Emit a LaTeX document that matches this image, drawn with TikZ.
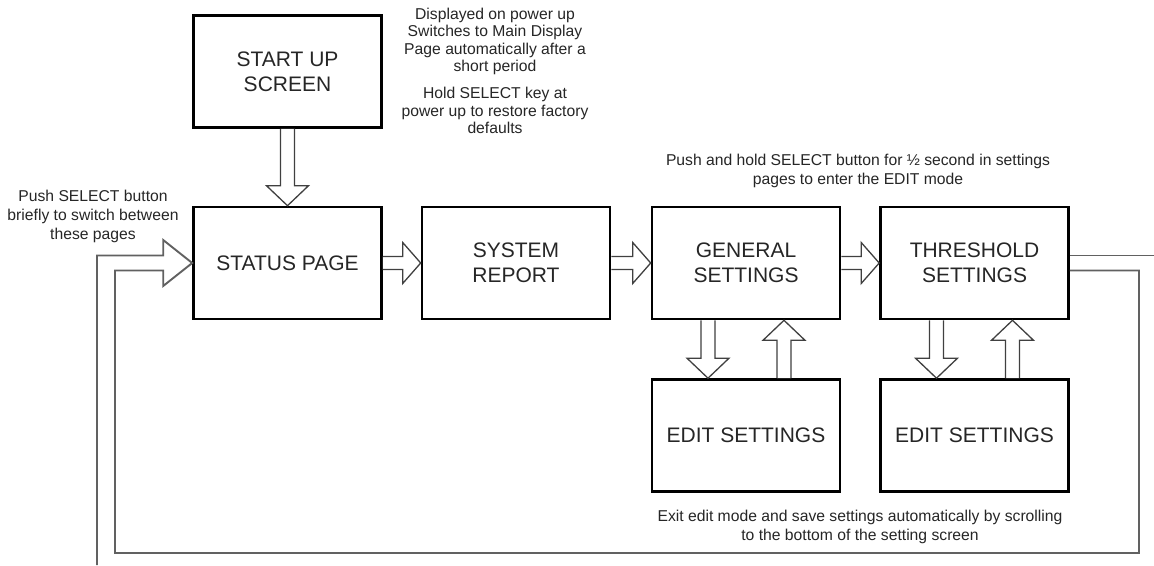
\documentclass[tikz,border=0pt]{standalone}
\usepackage{fontspec}
\setmainfont{Liberation Sans}
\usetikzlibrary{calc}
\newcommand\rarr[2]{\draw[arr] let \p1=(#1.east), \p2=(#2.west) in (\x1,\y1+6.5pt) -- (\x2-18pt,\y1+6.5pt) -- (\x2-18pt,\y1+20.5pt) -- (\x2,\y1) -- (\x2-18pt,\y1-20.5pt) -- (\x2-18pt,\y1-6.5pt) -- (\x1,\y1-6.5pt);}
\newcommand\darr[3]{\draw[arr] let \p1=($(#1.south)+(#3,0)$), \p2=(#2.north) in (\x1-7pt,\y1) -- (\x1-7pt,\y2+20pt) -- (\x1-21pt,\y2+20pt) -- (\x1,\y2) -- (\x1+21pt,\y2+20pt) -- (\x1+7pt,\y2+20pt) -- (\x1+7pt,\y1);}
\newcommand\uarr[3]{\draw[arr] let \p1=($(#1.north)+(#3,0)$), \p2=(#2.south) in (\x1-7pt,\y1) -- (\x1-7pt,\y2-20pt) -- (\x1-21pt,\y2-20pt) -- (\x1,\y2) -- (\x1+21pt,\y2-20pt) -- (\x1+7pt,\y2-20pt) -- (\x1+7pt,\y1);}
\begin{document}
\begin{tikzpicture}[x=1pt,y=-1pt,
  box/.style={draw=black, line width=2.6pt, minimum width=188pt, minimum height=112pt, inner sep=0pt, align=center, font=\fontsize{21}{25}\selectfont, text=black!85},
  note/.style={align=center, inner sep=0pt, font=\fontsize{15.7}{19}\selectfont, text=black!85},
  arr/.style={draw=black!75, fill=white, line width=1.3pt, line join=miter},
  loopline/.style={draw=black!62, line width=1.9pt, line join=miter}]
\fill[white] (0,0) rectangle (1154,565);
\useasboundingbox (0,0) rectangle (1154,565);

% boxes
\node[box] (start)  at (287.5,71.5) {START UP\\SCREEN};
\node[box] (status) at (287.5,263) {STATUS PAGE};
\node[box] (system) at (516,263) {SYSTEM\\REPORT};
\node[box] (general) at (746,263) {GENERAL\\SETTINGS};
\node[box] (thresh) at (974.5,263) {THRESHOLD\\SETTINGS};
\node[box] (edit1) at (746,435.5) {EDIT SETTINGS};
\node[box] (edit2) at (974.5,435.5) {EDIT SETTINGS};

% notes
\node[note, font=\fontsize{15.7}{17.5}\selectfont] (n1) at (495,41.5) {Displayed on power up\\Switches to Main Display\\Page automatically after a\\short period};
\node[note, font=\fontsize{15.7}{17.5}\selectfont] (n2) at (495,110.5) {Hold SELECT key at\\power up to restore factory\\defaults};
\node[note] (n3) at (93,216.5) {Push SELECT button\\briefly to switch between\\these pages};
\node[note] (n4) at (858,171) {Push and hold SELECT button for ½ second in settings\\pages to enter the EDIT mode};
\node[note] (n5) at (860,527) {Exit edit mode and save settings automatically by scrolling\\to the bottom of the setting screen};

% arrows
\darr{start}{status}{0}
\rarr{status}{system}
\rarr{system}{general}
\rarr{general}{thresh}
\darr{general}{edit1}{-38}
\uarr{edit1}{general}{38}
\darr{thresh}{edit2}{-38}
\uarr{edit2}{thresh}{38}

% loop
\coordinate (loopA) at (97,565);
\coordinate (loopB) at (1154,255.5);
\coordinate (loopBL) at (115,553);
\coordinate (loopBR) at (1139,553);
\draw[loopline] let \p1=(status.west), \p2=(thresh.east) in
  (loopA) |- (\x1-29pt,\y1+7.5pt) -- (\x1-29pt,\y1+23pt) -- (\x1,\y1) -- (\x1-29pt,\y1-23pt) -- (\x1-29pt,\y1-7.5pt)
  -| (loopBL) -- (loopBR) |- (\x2,\y2-7.5pt);
\draw[loopline] let \p2=(thresh.east) in (\x2,\y2+7.5pt) -- (loopB);
\end{tikzpicture}
\end{document}
